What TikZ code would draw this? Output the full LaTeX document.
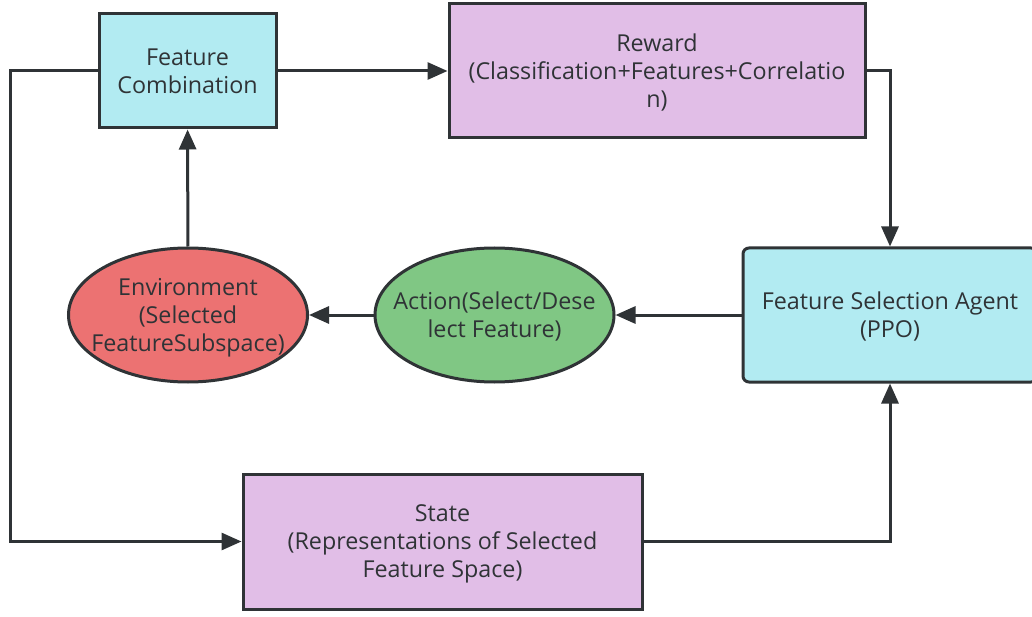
\documentclass[tikz,border=0pt]{standalone}
\usepackage{fontspec}
\setmainfont{Open Sans}
\usetikzlibrary{arrows.meta,shapes.geometric}
\definecolor{inkc}{HTML}{2F3336}
\definecolor{cyanfill}{HTML}{B2EBF2}
\definecolor{lilacfill}{HTML}{E1BEE7}
\definecolor{redfill}{HTML}{EC7272}
\definecolor{greenfill}{HTML}{80C784}
\tikzset{
  base/.style={draw=inkc, line width=3pt, text=inkc, align=center, inner sep=0pt,
    text depth=0pt, font=\fontsize{23.3}{28}\selectfont},
  boxc/.style={base, fill=cyanfill, minimum width=#1},
  boxp/.style={base, fill=lilacfill, minimum width=#1},
  % ovals keep a fixed size whatever their label's width
  oval/.style={base, ellipse, inner xsep=-45pt, minimum width=239pt, minimum height=134pt},
  link/.style={draw=inkc, line width=3pt, -{Triangle[length=20pt,width=17pt]}},
}
\begin{document}
\begin{tikzpicture}[x=1pt,y=-1pt]
  \clip (0,0) rectangle (1032,617);
  \fill[white] (0,0) rectangle (1032,617);

  \node[boxc=177pt, minimum height=114pt] (comb) at (187.5,71) {Feature\\Combination};
  \node[boxp=416pt, minimum height=134pt] (reward) at (657,71)
    {Reward\\(Classification+Features+Correlatio\\n)};
  \node[boxc=294pt, minimum height=134pt, rounded corners=6pt] (agent) at (890,315)
    {Feature Selection Agent\\(PPO)};
  \node[oval, fill=redfill] (env) at (188,315) {Environment\\(Selected\\FeatureSubspace)};
  \node[oval, fill=greenfill] (act) at (494.5,315) {Action(Select/Dese\\lect Feature)};
  \node[boxp=399pt, minimum height=135pt] (state) at (442.5,541.5)
    {State\\(Representations of Selected\\Feature Space)};

  \coordinate (lefttop) at (10,71);
  \coordinate (leftbot) at (10,541.5);

  \draw[link] (env) -- (comb);
  \draw[link] (comb) -- (reward);
  \draw[link] (reward.east) -| (agent.north);
  \draw[link] (agent) -- (act);
  \draw[link] (act) -- (env);
  \draw[link] (state.east) -| (agent.south);
  \draw[link] (comb.west) -- (lefttop) -- (leftbot) -- (state.west);
\end{tikzpicture}
\end{document}
